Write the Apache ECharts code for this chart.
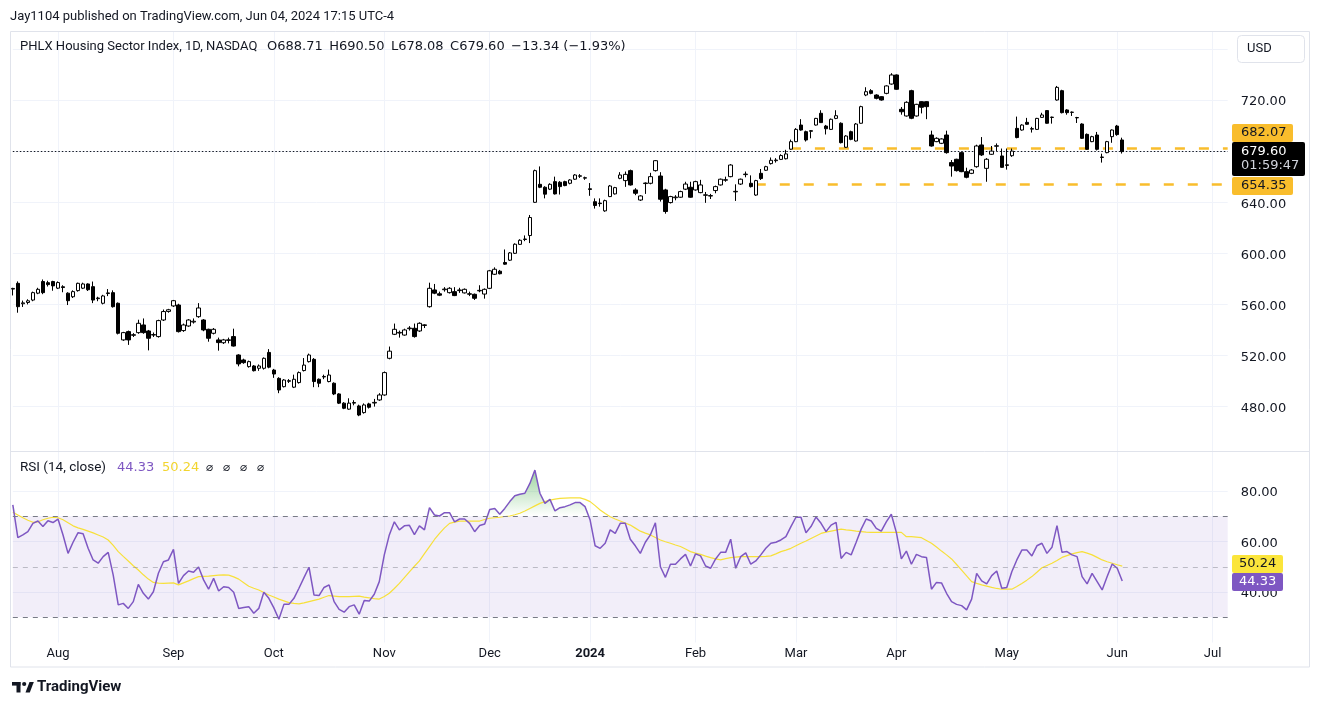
<!DOCTYPE html>
<html><head><meta charset="utf-8">
<script src="https://cdn.jsdelivr.net/npm/echarts@6/dist/echarts.min.js"></script>
<style>html,body{margin:0;padding:0;background:#fff;}#c{width:1320px;height:706px;}</style>
</head><body><div id="c"></div>
<script>
// ---------------- DATA ----------------
const START_DATE = '2023-07-19';
const N_CATS = 243; // visible slots incl. future empty space
const HOLIDAYS = ['2023-09-04','2023-11-23','2023-12-25','2024-01-01','2024-01-15','2024-02-19','2024-03-29','2024-05-27','2024-06-19','2024-07-04'];
const MONTHS = ['Jan','Feb','Mar','Apr','May','Jun','Jul','Aug','Sep','Oct','Nov','Dec'];
const priceTicksShown = [480,520,560,600,640,720];
const rsiTicksShown = [40,60,80];
const userLevels = [{value:682.07, from:'2024-02-29'},{value:654.35, from:'2024-02-20'}];
const lastClose = 679.60;
const legendName = 'PHLX Housing Sector Index, 1D, NASDAQ';
const legendValues = ['O688.71','H690.50','L678.08','C679.60','\u221213.34 (\u22121.93%)'];
const rsiLegend = {title: 'RSI (14, close)', rsi: '44.33', ma: '50.24'};

// candles: [open, close, low, high]
const candles = [
[572,572.5,567,573],[576.5,558.2,553.5,578],[560.5,561.2,558,563],[561.5,562.8,560,564],[563.4,569.2,562.5,570],[568.8,571.8,568,573],[577.9,569.2,568,579.5],[577,575.5,574,578.5],[577.9,574.5,570.7,578.5],[572.7,577.1,572,578],
[573.8,573.2,569.5,575],[568.8,562.9,559.5,569.5],[566,570,565,571],[570.8,576.5,570,577],[572.7,576,572,577],[576,571.5,570.5,576.5],[573.9,563.4,561,577.9],[564.5,565,562.5,566],[560.9,566.6,560,567.5],[568.5,569,566.5,572],
[569.2,558.2,557.5,571],[560.9,537.4,536.5,561.5],[532.2,537.9,531.5,538.5],[538.7,532.2,528.3,539.5],[535.8,536.3,534.5,537.5],[537.9,545.2,537,548],[543.9,537.9,537,549],[539.2,533.5,524,540],[536,536.4,534.5,538],[534.8,547.3,534,548],
[547.8,554.4,547,556],[554.5,555.8,553.5,556.5],[558.8,562.9,558,563.5],[559.5,538.7,538,560.5],[539.5,543.9,538.5,545],[543.1,547.8,542.5,548.5],[546.2,546.8,545,549],[550.4,557.2,549.5,561],[547.8,540,539,548.5],[540.5,533.5,530.8,541],
[537.4,540.5,536.5,541.5],[532.2,530.1,523.8,534],[530,532.2,529,533],[531.8,532.3,529.5,534],[534.8,527.4,527,541],[520.4,513.4,511.5,521],[516.5,514.4,513.5,517.5],[511.3,515.2,510.5,516],[511.8,508.1,507.5,512.5],[510,511.8,508,513],
[510,517.8,509,518.5],[522.4,510.9,510,525],[508.6,505.5,502.5,509.5],[502.1,493,490.5,503],[495.6,500.8,495,501.5],[499.8,500.3,498.5,501.5],[495.2,501.4,494.5,505],[498.8,506.6,498,507.5],[508.2,512.5,507.5,518],[515.2,520.4,514.5,521.5],
[517,499.6,495.2,518],[501.4,498.3,495.2,502],[503.2,503.6,501.5,505],[499.6,504.7,499,509],[498.3,489.9,489,499],[489.9,482.7,482,490.5],[482.7,478.7,478,483.5],[478,482.7,477.5,486.5],[482.7,483.2,481,485],[480.5,473.4,472.5,481.5],
[475.3,481.3,474.5,482.5],[482.1,479.5,478.5,483],[482.8,483.3,480,486],[485.2,489.1,484.5,490.5],[489.1,506.6,488.5,507.5],[517.8,523.4,517,527],[536.6,540.5,536,545],[537.6,538.1,534,539.5],[536,540,535.5,541],[541,541.5,539.5,543],
[541.3,534.8,534,545],[539.2,545.2,538.5,546],[543.5,544,541.5,544.5],[558.2,572.6,557.5,577],[571.3,568.8,568,576],[568.3,567.2,566.5,570],[571.5,572,570,573.5],[569.2,572.6,568.5,573.5],[570,566.9,566.5,573.5],[570.8,571.3,569,573],
[569,571.8,568.5,572.5],[568.3,568,566.5,570],[567.9,564.8,563.5,568.5],[570.6,571,569.5,575],[568.1,571.8,564.5,572.5],[572.6,586.3,572,587],[583.6,587.5,583,589],[586,584,583.5,587],[592.8,591.5,591,603],[594.6,600.3,594,601],
[600,607.1,599.5,607.8],[607,610.2,606.5,611],[610.8,611.2,609.5,614],[613.9,628,608,630],[639.9,664.7,639.5,665.5],[654,651.7,651,668],[651.7,646.3,643,652.5],[650.2,654,649.5,654.8],[656.1,646.5,646,660],[655.6,652.2,646,656.5],
[656.1,653,652.5,656.8],[654.8,657.4,654,658],[658,661.3,657.5,662],[660.3,660.7,659,662],[658.8,659.2,657.5,660],[650.5,650,645,655],[640.4,637.4,635,643],[639.3,638.9,636.5,643],[633.2,641.2,632.5,642],[644.4,652.7,644,653.5],
[646.5,651.4,646,652],[658.7,661.3,658,663.5],[656.9,661.8,652,664],[664.7,653.5,653,665.5],[649.6,647,645.5,651],[641.7,644.9,641,645.5],[654.6,655,646.5,655.5],[654.8,660,654,663],[664.7,672.5,664,673],[660.5,642.3,640.5,663.5],
[649.6,632.7,631,650.5],[639.7,644.4,639,645],[643.5,644,641.5,645.5],[643.9,648.3,643.5,649],[650.2,654.2,649.5,656],[651.7,643.9,643.5,656],[649.6,656.1,649,656.8],[647.5,653.5,647,657.5],[645.4,645.8,639.5,648],[644.8,645.2,642.5,646.5],
[649.1,652.2,647,653],[653.5,658,653,658.5],[657.2,657.6,656,660],[660,669.1,659.5,669.8],[648.1,648.5,641,654],[654.2,658,653.5,658.5],[661.6,662,659.5,664],[654.8,652.2,651.5,661],[645.6,656.9,645,657.5],[662.6,658.5,657.4,666],
[665,667.8,664.5,668.5],[670.2,672.8,669.5,675],[672.5,673,671,674.5],[673.5,676.5,673,677.5],[674,677.8,673.5,681],[681.5,687.4,681,689],[687.4,697,687,698],[700.4,696.5,696,705],[695.2,688.7,687.5,696],[695.5,696,690,696.5],
[700.4,705.6,700,706],[709.6,702.3,702,712],[699.6,697.5,693,700.5],[697,704.9,696.5,705.5],[705.6,707.7,705,712],[701.8,686.6,686,702.5],[683,691.8,682.5,692.5],[695.2,689.2,688.5,696],[687.9,701.2,687.5,702],[701.8,714.8,701.5,715.5],
[723.9,726.5,723,730],[727.3,725.2,724.5,728.5],[723.9,721.3,720.5,724.5],[722.6,720,719.5,723],[725.2,731,724.5,731.5],[732.5,739.6,732,741],[739.6,728.4,728,740],[712.7,710.8,708.5,714.5],[707.5,718.2,707,719],[727.3,705.7,705,728],
[707.5,716.6,707,717],[718.7,714.3,709.5,719],[718.7,714.8,705,719],[692.6,684,683.5,696],[687.4,690,687,690.8],[686.1,689.5,685.5,690],[692.6,678.8,678,696],[671,668.3,660,673],[673.6,664.7,664,674],[678.8,663.9,663.5,679.5],
[663.9,659.5,658.7,667],[662.6,665.2,662,666],[667.8,684,667,685],[684.8,677,676.2,691],[666.5,673.6,656,674.5],[677.5,680,677,684],[683.8,684.2,680,686],[676.2,667.3,667,682],[668.8,669.3,665.5,682],[676.4,680,675.5,682],
[697.8,690.6,690,707],[696.5,700.4,696,701],[702.5,701,700.5,706],[697.2,697.6,694.5,699],[697,705.6,696.5,706],[706.4,708.3,706,710],[711.7,701.8,701.5,712],[706.3,706.6,701.5,707],[720,729.9,719.5,731],[727.3,710.1,709.5,728],
[712.2,710.1,708.5,712.8],[710.3,710.5,707.5,711],[706,706.3,702,706.8],[701.2,690,689.5,701.8],[693.1,681.4,681,693.8],[687.4,691.3,687,692],[692.6,681.4,680.5,695],[675,675.4,671,678],[678.8,687.4,678.3,688],[691.3,696.5,686.5,697],
[699.6,692.94,692,700.5],[688.71,679.60,678.08,690.50]
];

const rsi = [
74.5,61.5,62.6,63.9,67.2,68.1,65.9,68.2,67.5,68.9,
62.6,55.3,59.7,63.5,63.1,57.3,52.7,51.4,54,55.7,
46.7,34.9,35.5,33.5,36.2,43,39.5,37.2,40.1,47.4,
52,52.7,56.9,43.4,46.5,48.3,47.8,49.9,44.8,41.1,
45.4,40.4,42.1,41.8,39.9,33.5,33.9,34.2,31.6,33.5,
39.9,37.5,33.7,29.2,35.1,35.1,37.5,41.5,45.7,49.8,
38.8,38.6,41.8,42.8,36.2,33.1,32,34.2,34.9,31.2,
36.6,36.4,39.1,44.1,54.7,62.6,67.8,64.6,66.2,66.4,
62.7,66.2,64.6,73.4,70.5,70.1,71.4,71.4,67.8,68.9,
68.9,67.2,63.9,66.3,66.9,72.7,73.1,70.8,73.1,75.8,
78.1,78.7,79.1,83,88.3,79.1,75.1,76.7,72.1,73.4,
73.8,74.5,75.4,75.4,73.8,68.5,58.3,57.3,59.3,64.6,
63.2,67.2,67.2,60.9,58.3,55.3,59.7,62.6,67.4,50,
45.8,51,51,53.1,54.9,50.3,55.1,54.3,50.3,49.4,
53.1,55.7,55.7,60.9,49.4,54,55.5,51,52.3,54.7,
57.3,59.3,59.7,60.6,61.9,65.9,69.6,69.6,63.5,65.9,
69.7,67.2,63.9,66.5,67.6,53.3,55.7,54.7,59.7,64.9,
68.9,68.1,65.2,64.1,67.8,70.8,63.6,53.1,56.2,51,
54.9,54,53.7,41.1,43.8,43.6,39.5,36.2,35.1,34.6,
32.9,37.2,47.4,44.4,43.2,46.5,48.3,41.5,41.8,48,
52.7,56.6,56.6,54.3,58.3,59.3,55.3,57.7,66.3,55.7,
56,54.7,54,46.1,43.2,47.4,44.1,40.8,46.1,51.1,
49.4,44.33
];

const rsiMA = [
71.6,70.5,69.4,68.4,67.6,67.8,68.6,69.2,69.6,69.4,
68.6,67.4,66.2,65.4,64.8,64.1,63.4,62.6,61.8,60.6,
58.5,56,54.1,52.3,50.4,48.7,46.8,45.1,43.8,43.5,
43.4,43.5,43.6,42.8,43.6,44.4,45.3,46.1,46.2,46.3,
46.5,46.7,46.8,46.7,46,45.1,43.7,42.3,41.5,40.8,
39.8,38.8,38,37.2,36.5,35.8,35.5,35.3,35.7,36.2,
36.7,37.2,37.9,38.6,38.4,38.2,38.2,38.2,38.3,38.4,
38,37.7,37.4,37.2,38.2,39.5,41.4,43.4,45.7,48,
50.2,52.3,55.2,58,60.8,63.2,65.4,67.2,67.7,68.1,
68.1,68.1,68.1,68.1,68.7,69.2,69.4,69.6,69.9,70.1,
70.6,71.2,72.1,73.1,74.1,75.1,75.8,76.4,76.8,77.1,
77.2,77.3,77.3,77.3,76.7,75.8,74.2,72.5,71.1,69.8,
68.9,68.1,67.3,66.5,65.3,64.1,63.3,62.6,61.6,60.6,
59.9,59.3,58.6,58,57,56,55.4,54.9,54.2,53.6,
53.1,52.7,53.2,53.6,53.8,54,54,54,54,54,
54.1,54.3,55.1,56,56.6,57.3,58.3,59.3,60.2,61.2,
62.2,63.2,63.7,64.1,64.5,64.9,64.6,64.4,64.1,63.9,
63.7,63.6,63.6,63.6,63.6,63.6,63.6,63.6,61.9,61.9,
61.7,61.5,60.4,59.3,57.8,56.2,54.7,53.1,50.9,48.7,
46.4,44.1,43.4,42.8,42.3,41.8,41.4,41.1,41.1,41.1,
42.2,43.4,44.7,46.1,47.8,49.6,50.5,51.4,52.5,53.7,
54.4,55.1,55.6,56,55.4,54.7,53.7,52.7,52,51.4,
50.8,50.24
];

// ---------------- LAYOUT ----------------
const FONT = 'Roboto, "Noto Sans", sans-serif';
const NUMFONT = '"DejaVu Sans", Roboto, sans-serif';
const TXT = '#131722';
const GRID_LEFT = 12.82, CAT_STEP = 5.02;
const GRID_W = (N_CATS - 1) * CAT_STEP;
const PRICE_MIN = 440, PRICE_MAX = 780, PRICE_TOP = 23.35, PRICE_H = 434.35;
const RSI_MIN = 20, RSI_MAX = 100, RSI_TOP = 440.5, RSI_H = 202;
const GRID_COL = '#f0f3fa';

function tradingDays(start, n) {
  const out = []; const d = new Date(start + 'T12:00:00Z');
  while (out.length < n) {
    const dow = d.getUTCDay(); const s = d.toISOString().slice(0, 10);
    if (dow !== 0 && dow !== 6 && HOLIDAYS.indexOf(s) < 0) out.push(s);
    d.setUTCDate(d.getUTCDate() + 1);
  }
  return out;
}
const dates = tradingDays(START_DATE, N_CATS);
const monthStart = dates.map((s, k) => k > 0 && s.slice(0, 7) !== dates[k - 1].slice(0, 7));
const isMonthStart = (idx) => monthStart[idx];
const monthLabel = (v) => { const m = +v.slice(5, 7); return m === 1 ? '{b|' + v.slice(0, 4) + '}' : MONTHS[m - 1]; };

const yR = v => RSI_TOP + (RSI_MAX - v) * RSI_H / (RSI_MAX - RSI_MIN);

const xAxisBase = (gi, showLabel) => ({
  type: 'category', gridIndex: gi, data: dates, boundaryGap: false,
  axisLine: {show: false}, axisTick: {show: false},
  axisLabel: {show: showLabel, interval: isMonthStart, formatter: monthLabel, color: TXT, fontSize: 13, fontFamily: FONT, margin: 5,
    rich: {b: {fontWeight: 'bold', fontSize: 13, color: TXT, fontFamily: FONT}}},
  splitLine: {show: true, interval: isMonthStart, lineStyle: {color: GRID_COL, width: 1}}
});

const yLabel = (shown) => ({
  color: TXT, fontSize: 13, fontFamily: NUMFONT, margin: 13,
  formatter: v => shown.indexOf(v) >= 0 ? '{a|' + v.toFixed(2) + '}' : '',
  rich: {a: {color: TXT, fontSize: 13, fontFamily: NUMFONT, padding: [4, 0, 0, 0]}}
});

const txt = (x, y, text, fill, font) => ({type: 'text', z: 103, x: x, y: y, style: {text: text, font: font || ('13px ' + NUMFONT), fill: fill || TXT, textVerticalAlign: 'middle'}});

const option = {
  animation: false,
  backgroundColor: '#ffffff',
  textStyle: {fontFamily: FONT},
  grid: [
    {left: GRID_LEFT, top: PRICE_TOP, width: GRID_W, height: PRICE_H},
    {left: GRID_LEFT, top: RSI_TOP, width: GRID_W, height: RSI_H}
  ],
  xAxis: [xAxisBase(0, false), xAxisBase(1, true)],
  yAxis: [
    {type: 'value', gridIndex: 0, position: 'right', min: PRICE_MIN, max: PRICE_MAX, interval: 40,
      axisLine: {show: false}, axisTick: {show: false}, axisLabel: yLabel(priceTicksShown),
      splitLine: {show: true, showMinLine: false, showMaxLine: false, lineStyle: {color: GRID_COL}}},
    {type: 'value', gridIndex: 1, position: 'right', min: RSI_MIN, max: RSI_MAX, interval: 20,
      axisLine: {show: false}, axisTick: {show: false}, axisLabel: yLabel(rsiTicksShown),
      splitLine: {show: true, showMinLine: false, showMaxLine: false, lineStyle: {color: GRID_COL}}}
  ],
  series: [
    {
      type: 'candlestick', xAxisIndex: 0, yAxisIndex: 0, data: candles, barWidth: 4, z: 5,
      itemStyle: {color: '#ffffff', color0: '#000000', borderColor: '#000000', borderColor0: '#000000', borderWidth: 1},
      markLine: {
        silent: true, symbol: ['none', 'none'], label: {show: false}, animation: false,
        data: [
          {yAxis: lastClose, lineStyle: {type: [1.5, 2], color: '#131722', width: 1}},
          ...userLevels.map(l => [
            {coord: [l.from, l.value], lineStyle: {type: [10, 14], color: '#f9bd2c', width: 2.5}},
            {coord: [dates[N_CATS - 1], l.value]}
          ])
        ]
      }
    },
    {
      name: 'base', type: 'line', xAxisIndex: 1, yAxisIndex: 1, stack: 'ob', z: 1,
      data: rsi.map(() => 70), showSymbol: false, lineStyle: {width: 0, opacity: 0}, silent: true,
      markArea: {silent: true, itemStyle: {color: 'rgba(126,87,194,0.1)'}, data: [[{yAxis: 30}, {yAxis: 70}]]},
      markLine: {silent: true, symbol: ['none', 'none'], label: {show: false},
        data: [
          {yAxis: 70, lineStyle: {type: [5, 5], color: '#787b86', width: 1}},
          {yAxis: 50, lineStyle: {type: [5, 5], color: 'rgba(120,123,134,0.45)', width: 1}},
          {yAxis: 30, lineStyle: {type: [5, 5], color: '#787b86', width: 1}}
        ]}
    },
    {
      name: 'obfill', type: 'line', xAxisIndex: 1, yAxisIndex: 1, stack: 'ob', z: 2,
      data: rsi.map(v => Math.max(v - 70, 0)), showSymbol: false, lineStyle: {width: 0, opacity: 0}, silent: true,
      areaStyle: {opacity: 1, color: {type: 'linear', x: 0, y: yR(100), x2: 0, y2: yR(70), global: true,
        colorStops: [{offset: 0, color: 'rgba(76,175,80,0.9)'}, {offset: 1, color: 'rgba(76,175,80,0)'}]}}
    },
    {
      name: 'ma', type: 'line', xAxisIndex: 1, yAxisIndex: 1, z: 3, data: rsiMA, showSymbol: false, silent: true,
      lineStyle: {color: '#f7e03a', width: 1.2}
    },
    {
      name: 'rsi', type: 'line', xAxisIndex: 1, yAxisIndex: 1, z: 4, data: rsi, showSymbol: false, silent: true,
      lineStyle: {color: '#7e57c2', width: 1.5}
    }
  ],
  graphic: {elements: [
    {type: 'rect', z: 100, shape: {x: 0, y: 0, width: 1320, height: 31}, style: {fill: '#ffffff'}},
    {type: 'rect', z: 100, shape: {x: 0, y: 667, width: 1320, height: 39}, style: {fill: '#ffffff'}},
    {type: 'rect', z: 101, shape: {x: 10.5, y: 31.5, width: 1299, height: 635.5}, style: {fill: 'none', stroke: '#e0e3eb', lineWidth: 1}},
    {type: 'line', z: 101, shape: {x1: 10.5, y1: 451.5, x2: 1309.5, y2: 451.5}, style: {stroke: '#e0e3eb', lineWidth: 1}},
    txt(10, 17, 'Jay1104 published on TradingView.com, Jun 04, 2024 17:15 UTC-4', TXT, '13px ' + FONT),
    {type: 'text', z: 103, x: 20, y: 47, style: {
      text: '{n|' + legendName + '}   ' + legendValues.map(v => '{v|' + v + '}').join('  '),
      textVerticalAlign: 'middle', font: '13px ' + FONT,
      rich: {n: {fill: TXT, font: '13px ' + FONT}, v: {fill: TXT, font: '13px ' + NUMFONT}}
    }},
    txt(20, 468, rsiLegend.title, TXT, '13.5px ' + FONT),
    txt(117, 468, rsiLegend.rsi, '#7e57c2'),
    txt(162, 468, rsiLegend.ma, '#f2d530'),
    ...[206, 223, 240, 257].map(x => txt(x, 468, '\u2300', TXT, '12px "DejaVu Sans", sans-serif')),
    {type: 'rect', z: 102, shape: {x: 1237.5, y: 35.5, width: 67, height: 27, r: 4}, style: {fill: '#ffffff', stroke: '#e0e3eb', lineWidth: 1}},
    txt(1247, 49, 'USD', TXT, '13px ' + FONT),
    {type: 'rect', z: 102, shape: {x: 1232, y: 124, width: 61, height: 18, r: 2}, style: {fill: '#f9bd2c'}},
    txt(1241, 133, '682.07'),
    {type: 'rect', z: 102, shape: {x: 1232, y: 142, width: 73, height: 34, r: 2}, style: {fill: '#000000'}},
    txt(1241, 151.5, '679.60', '#ffffff'),
    txt(1241, 166, '01:59:47', '#d1d4dc'),
    {type: 'rect', z: 102, shape: {x: 1232, y: 177, width: 61, height: 18, r: 2}, style: {fill: '#f9bd2c'}},
    txt(1241, 186, '654.35'),
    {type: 'rect', z: 102, shape: {x: 1232, y: 555, width: 51, height: 18, r: 2}, style: {fill: '#fbe53b'}},
    txt(1239, 564, '50.24'),
    {type: 'rect', z: 102, shape: {x: 1232, y: 573, width: 51, height: 18, r: 2}, style: {fill: '#7e57c2'}},
    txt(1239, 582, '44.33', '#ffffff'),
    {type: 'rect', z: 102, shape: {x: 12, y: 682, width: 8.5, height: 3.6}, style: {fill: TXT}},
    {type: 'rect', z: 102, shape: {x: 16.5, y: 682, width: 4, height: 10.5}, style: {fill: TXT}},
    {type: 'circle', z: 102, shape: {cx: 24.2, cy: 684, r: 2.1}, style: {fill: TXT}},
    {type: 'polygon', z: 102, shape: {points: [[25.5, 692.5], [29.5, 682], [33.8, 682], [29.8, 692.5]]}, style: {fill: TXT}},
    txt(37, 687.5, 'TradingView', TXT, 'bold 15px ' + FONT)
  ]}
};

const chart = echarts.init(document.getElementById('c'), null, {renderer: 'canvas', width: 1320, height: 706});
chart.setOption(option);
</script>
</body></html>
